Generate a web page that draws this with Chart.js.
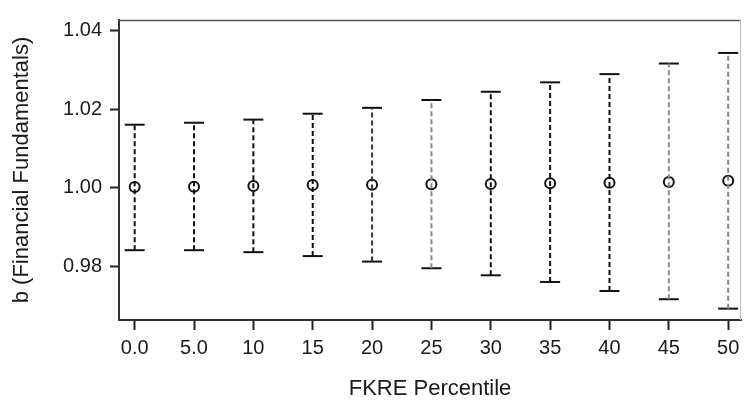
<!DOCTYPE html>
<html>
<head>
<meta charset="utf-8">
<script src="https://cdn.jsdelivr.net/npm/chart.js@4/dist/chart.umd.min.js"></script>
<style>
  html, body { margin: 0; padding: 0; background: #fff; }
  #wrap { width: 753px; height: 404px; }
</style>
</head>
<body>
<div id="wrap"><canvas id="chart" width="753" height="404"></canvas></div>
<script>
// FKRE percentiles on the x axis and their tick labels
const percentiles = [0, 5, 10, 15, 20, 25, 30, 35, 40, 45, 50];
const xTickLabels = ['0.0', '5.0', '10', '15', '20', '25', '30', '35', '40', '45', '50'];

// point estimates of b and the ends of the bars
const estimates = [1.0002, 1.0003, 1.0005, 1.0007, 1.0008, 1.0009, 1.0010, 1.0012, 1.0013, 1.0015, 1.0018];
const upper = [1.0161, 1.0166, 1.0174, 1.0189, 1.0204, 1.0224, 1.0245, 1.0269, 1.0290, 1.0317, 1.0344];
const lower = [0.9841, 0.9841, 0.9836, 0.9826, 0.9812, 0.9795, 0.9777, 0.9760, 0.9737, 0.9716, 0.9692];

// y axis ticks
const yTicks = [0.98, 1.00, 1.02, 1.04];
const yTickLabels = ['0.98', '1.00', '1.02', '1.04'];

// colour of each dashed whisker (some print lighter in the source)
const whiskerColors = ['#111', '#111', '#111', '#111', '#333', '#888', '#111', '#111', '#111', '#888', '#888'];

const textColor = '#1a1a1a';

const datasets = [];

// dashed whiskers
percentiles.forEach((p, i) => {
  datasets.push({
    type: 'line',
    data: [{ x: p, y: lower[i] }, { x: p, y: upper[i] }],
    borderColor: whiskerColors[i],
    borderWidth: 2,
    borderDash: [5, 3],
    pointRadius: 0,
    fill: false,
  });
});

// caps
datasets.push({
  type: 'scatter',
  data: percentiles.flatMap((p, i) => [{ x: p, y: upper[i] }, { x: p, y: lower[i] }]),
  pointStyle: 'line',
  pointRadius: 10,
  borderColor: '#111',
  borderWidth: 2,
});

// open circles
datasets.push({
  type: 'scatter',
  data: percentiles.map((p, i) => ({ x: p, y: estimates[i] })),
  pointStyle: 'circle',
  pointRadius: 5,
  borderColor: '#111',
  backgroundColor: 'rgba(0,0,0,0)',
  borderWidth: 2,
});

// top and right frame lines
const frame = {
  id: 'frame',
  afterDraw(chart) {
    const { ctx, chartArea: a } = chart;
    ctx.save();
    ctx.strokeStyle = '#555';
    ctx.lineWidth = 1.5;
    ctx.beginPath();
    ctx.moveTo(a.left, a.top + 0.5);
    ctx.lineTo(a.right, a.top + 0.5);
    ctx.stroke();
    ctx.strokeStyle = '#bbb';
    ctx.lineWidth = 1;
    ctx.beginPath();
    ctx.moveTo(a.right - 0.5, a.top);
    ctx.lineTo(a.right - 0.5, a.bottom);
    ctx.stroke();
    ctx.restore();
  }
};

new Chart(document.getElementById('chart'), {
  type: 'scatter',
  data: { datasets },
  plugins: [frame],
  options: {
    responsive: false,
    animation: false,
    events: [],
    layout: { padding: { left: 0, right: 1, top: 12, bottom: 0 } },
    plugins: {
      legend: { display: false },
      tooltip: { enabled: false },
    },
    scales: {
      x: {
        type: 'linear',
        min: -1.32,
        max: 51.08,
        afterFit: (scale) => { scale.height = 84; },
        afterBuildTicks: (scale) => { scale.ticks = percentiles.map(v => ({ value: v })); },
        ticks: {
          autoSkip: false,
          maxRotation: 0,
          padding: 6,
          color: textColor,
          font: { family: 'Liberation Sans, Arial, sans-serif', size: 20 },
          callback: (v) => xTickLabels[percentiles.indexOf(v)],
        },
        grid: { drawOnChartArea: false, tickLength: 10, tickWidth: 2, color: '#222' },
        border: { color: '#333', width: 2 },
        title: {
          display: true,
          text: 'FKRE Percentile',
          color: textColor,
          font: { family: 'Liberation Sans, Arial, sans-serif', size: 22 },
          padding: { top: 0, bottom: 2 },
        },
      },
      y: {
        min: 0.9663,
        max: 1.0428,
        afterFit: (scale) => { scale.width = 119; },
        afterBuildTicks: (scale) => { scale.ticks = yTicks.map(v => ({ value: v })); },
        ticks: {
          padding: 8,
          color: textColor,
          font: { family: 'Liberation Sans, Arial, sans-serif', size: 20 },
          callback: (v) => yTickLabels[yTicks.findIndex(t => Math.abs(t - v) < 1e-9)],
        },
        grid: { drawOnChartArea: false, tickLength: 9, tickWidth: 2, color: '#222' },
        border: { color: '#333', width: 2 },
        title: {
          display: true,
          text: 'b (Financial Fundamentals)',
          color: textColor,
          font: { family: 'Liberation Sans, Arial, sans-serif', size: 22 },
          padding: { top: 9, bottom: 0 },
        },
      },
    },
  },
});
</script>
</body>
</html>
